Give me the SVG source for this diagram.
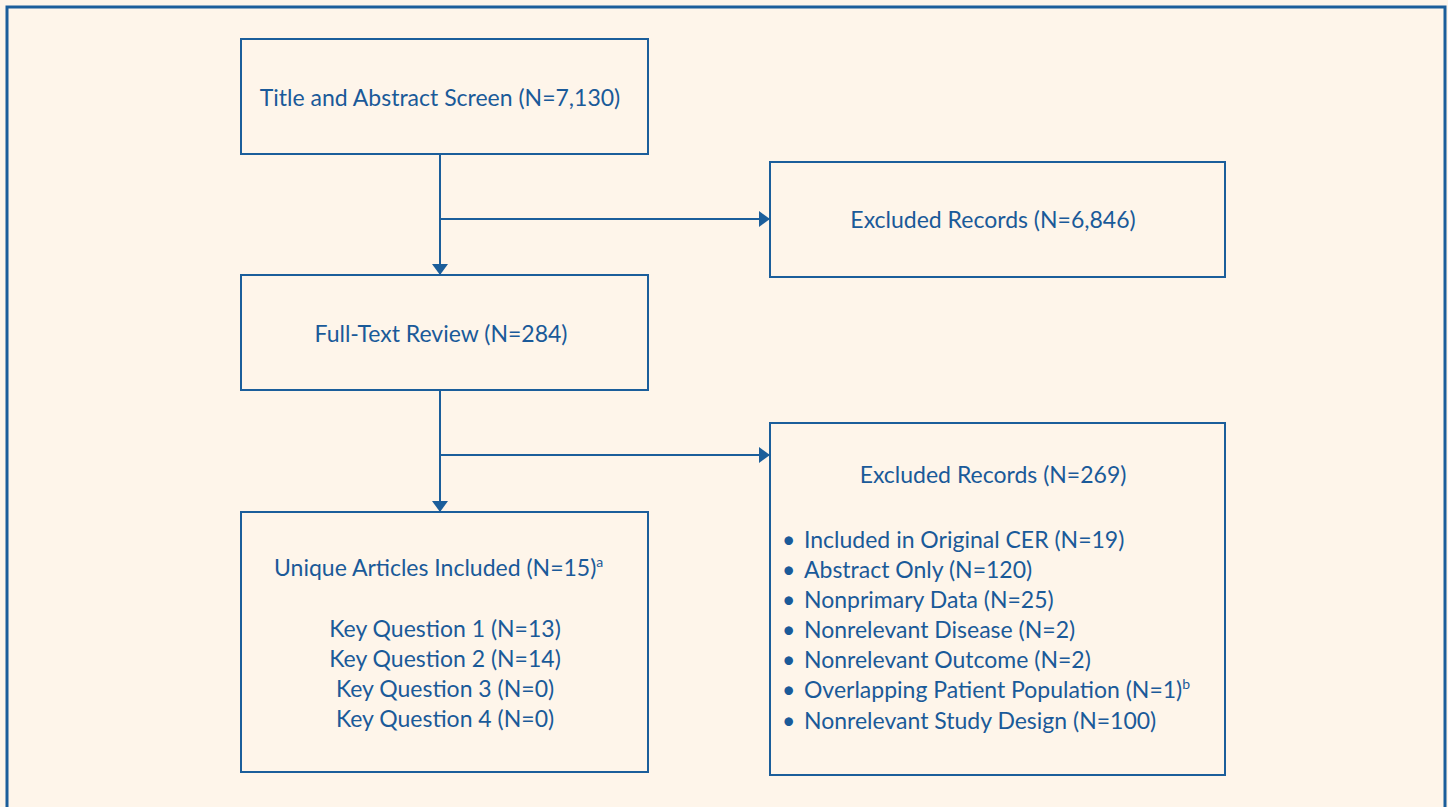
<svg xmlns="http://www.w3.org/2000/svg" width="1448" height="807" viewBox="0 0 1448 807">
<defs>
<style>
.box{fill:#FEF5EA;stroke:#1B5E9B;stroke-width:2}
.t{font-family:Lato,"Open Sans","Noto Sans",sans-serif;font-size:23px;fill:#1A5A99}
.c{text-anchor:middle}
.ln{stroke:#1B5E9B;stroke-width:2;fill:none}
.sup{font-size:14px}
</style>
<marker id="ah" viewBox="0 0 11 16" refX="11" refY="8" markerWidth="11" markerHeight="16" markerUnits="userSpaceOnUse" orient="auto">
<path d="M0,0 L11,8 L0,16 Z" fill="#1B5E9B"/>
</marker>
</defs>
<rect x="0" y="0" width="1448" height="807" fill="#FEF5EA"/>
<rect x="7" y="7" width="1438" height="810" fill="none" stroke="#1B5E9B" stroke-width="3"/>
<g id="connectors">
<line class="ln" x1="440" y1="154" x2="440" y2="275" marker-end="url(#ah)"/>
<line class="ln" x1="440" y1="219" x2="770" y2="219" marker-end="url(#ah)"/>
<line class="ln" x1="440" y1="390" x2="440" y2="512" marker-end="url(#ah)"/>
<line class="ln" x1="440" y1="455" x2="770" y2="455" marker-end="url(#ah)"/>
</g>
<g id="n1">
<rect class="box" x="241" y="39" width="407" height="115"/>
<text class="t c" x="440" y="106">Title and Abstract Screen (N=7,130)</text>
</g>
<g id="n2">
<rect class="box" x="770" y="162" width="455" height="115"/>
<text class="t c" x="993" y="228">Excluded Records (N=6,846)</text>
</g>
<g id="n3">
<rect class="box" x="241" y="275" width="407" height="115"/>
<text class="t c" x="441" y="342">Full-Text Review (N=284)</text>
</g>
<g id="n4">
<rect class="box" x="770" y="423" width="455" height="352"/>
<text class="t c" x="993" y="483">Excluded Records (N=269)</text>
<g class="t">
<text x="782" y="548">•</text><text x="804" y="548">Included in Original CER (N=19)</text>
<text x="782" y="578">•</text><text x="804" y="578">Abstract Only (N=120)</text>
<text x="782" y="608">•</text><text x="804" y="608">Nonprimary Data (N=25)</text>
<text x="782" y="638">•</text><text x="804" y="638">Nonrelevant Disease (N=2)</text>
<text x="782" y="668">•</text><text x="804" y="668">Nonrelevant Outcome (N=2)</text>
<text x="782" y="698">•</text><text x="804" y="698">Overlapping Patient Population (N=1)<tspan class="sup" dy="-9">b</tspan></text>
<text x="782" y="729">•</text><text x="804" y="729">Nonrelevant Study Design (N=100)</text>
</g>
</g>
<g id="n5">
<rect class="box" x="241" y="512" width="407" height="260"/>
<text class="t" x="274" y="576">Unique Articles Included (N=15)<tspan class="sup" dy="-9">a</tspan></text>
<text class="t c" x="445" y="637">Key Question 1 (N=13)</text>
<text class="t c" x="445" y="667">Key Question 2 (N=14)</text>
<text class="t c" x="445" y="697">Key Question 3 (N=0)</text>
<text class="t c" x="445" y="727">Key Question 4 (N=0)</text>
</g>
</svg>
